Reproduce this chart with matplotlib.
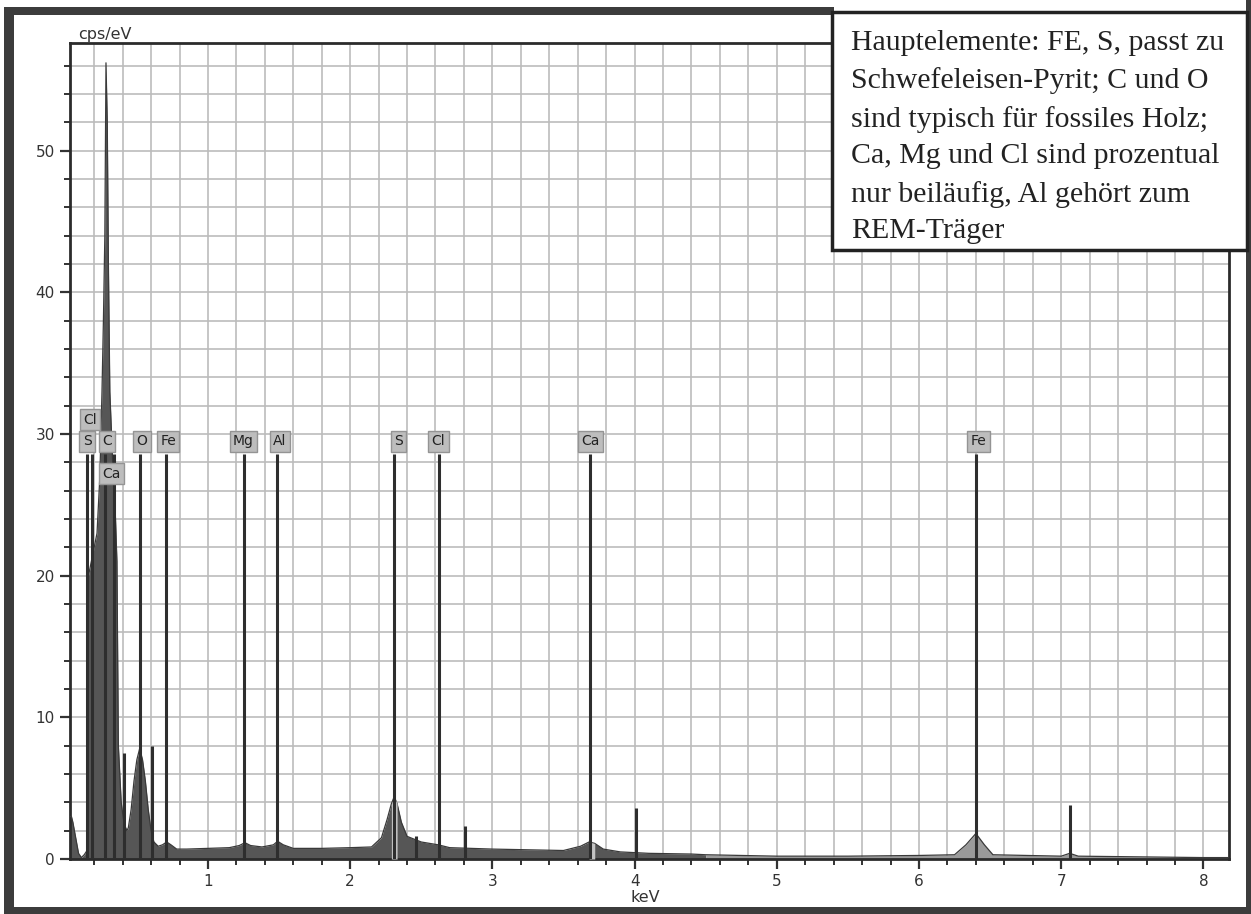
import matplotlib
matplotlib.use("Agg")
import matplotlib.pyplot as plt
from matplotlib.patches import Rectangle
from matplotlib.ticker import MultipleLocator

# EDX spectrum (keV, cps/eV)
energy = [0.03, 0.04, 0.05, 0.07, 0.09, 0.11, 0.13, 0.15, 0.16, 0.18, 0.22, 0.24,
          0.255, 0.265, 0.275, 0.283, 0.292, 0.30, 0.31, 0.33, 0.35, 0.36, 0.37,
          0.39, 0.41, 0.43, 0.44,
          0.46, 0.48, 0.50, 0.52, 0.54, 0.56, 0.58, 0.60, 0.62, 0.65, 0.68, 0.71,
          0.74, 0.78, 0.85, 1.00, 1.15, 1.22, 1.26, 1.30, 1.38, 1.46, 1.49, 1.53,
          1.60, 1.80, 2.00, 2.15, 2.22, 2.26, 2.29, 2.31, 2.33, 2.36, 2.40, 2.45,
          2.50, 2.62, 2.70, 3.00, 3.50, 3.62, 3.68, 3.72, 3.78, 3.90, 4.10, 4.40,
          4.50, 5.00, 5.50, 6.00, 6.25, 6.33, 6.40, 6.46, 6.52, 7.00, 7.06, 7.12,
          8.00, 8.20]
cps = [3.0, 3.0, 2.6, 1.5, 0.4, 0.1, 0.3, 0.6, 20.0, 21.0, 23.0, 27.0,
       33.0, 38.0, 44.0, 56.2, 52.0, 42.0, 33.0, 28.0, 24.0, 21.0, 8.0,
       4.0, 2.5, 2.0, 2.2,
       3.5, 5.5, 7.0, 7.8, 7.0, 5.5, 3.5, 2.0, 1.2, 0.9, 1.0, 1.2,
       1.0, 0.7, 0.7, 0.75, 0.8, 0.95, 1.15, 0.95, 0.85, 1.0, 1.25, 1.0,
       0.75, 0.75, 0.8, 0.85, 1.5, 2.8, 3.9, 4.4, 3.9, 2.6, 1.6, 1.4,
       1.2, 1.0, 0.8, 0.7, 0.6, 0.9, 1.2, 1.1, 0.7, 0.5, 0.4, 0.35,
       0.3, 0.2, 0.2, 0.25, 0.3, 1.0, 1.8, 1.0, 0.3, 0.2, 0.4, 0.2,
       0.1, 0.1]

# element markers: label, line position, label x, label y
el_names = ["S", "C", "Cl", "Ca", "O", "Fe", "Mg", "Al", "S", "Cl", "Ca", "Fe"]
el_lines = [0.149, 0.277, 0.182, 0.341, 0.525, 0.705, 1.254, 1.487, 2.307, 2.622, 3.690, 6.400]
el_lab_x = [0.15, 0.29, 0.17, 0.32, 0.535, 0.72, 1.25, 1.505, 2.34, 2.62, 3.69, 6.42]
el_lab_y = [29.5, 29.5, 31.0, 27.2, 29.5, 29.5, 29.5, 29.5, 29.5, 29.5, 29.5, 29.5]

# short lines (k-beta / escape)
short_x = [0.41, 0.61, 2.46, 2.81, 4.01, 7.06]
short_h = [7.5, 8.0, 1.6, 2.3, 3.6, 3.8]

note = ("Hauptelemente: FE, S, passt zu\n"
        "Schwefeleisen-Pyrit; C und O\n"
        "sind typisch für fossiles Holz;\n"
        "Ca, Mg und Cl sind prozentual\n"
        "nur beiläufig, Al gehört zum\n"
        "REM-Träger")

W, H = 1251, 914
fig = plt.figure(figsize=(W / 100, H / 100), dpi=100)
fig.patch.set_facecolor("white")
ax = fig.add_axes([70 / W, 1 - 859 / H, (1229 - 70) / W, (859 - 43) / H])

ax.set_xlim(0.03, 8.18)
ax.set_ylim(0, 57.6)

ax.xaxis.set_major_locator(MultipleLocator(1))
ax.xaxis.set_minor_locator(MultipleLocator(0.2))
ax.yaxis.set_major_locator(MultipleLocator(10))
ax.yaxis.set_minor_locator(MultipleLocator(2))
ax.grid(True, which="both", color="#bcbcbc", lw=1.2, zorder=0)
ax.set_axisbelow(True)

ax.tick_params(which="major", direction="out", length=7, width=1.6, color="#333",
               labelsize=11, labelcolor="#333", pad=4)
ax.tick_params(which="minor", direction="out", length=4, width=1.4, color="#333")
ax.set_xticks(range(1, 9))
ax.set_xticklabels([str(i) for i in range(1, 9)])
for s in ax.spines.values():
    s.set_color("#2b2b2b")
    s.set_linewidth(2)

# spectrum: dark up to 4.5 keV, lighter beyond
x_split = 4.5
lo = [i for i, e in enumerate(energy) if e <= x_split]
hi = [i for i, e in enumerate(energy) if e >= x_split]
ax.fill_between([energy[i] for i in lo], [cps[i] for i in lo], color="#565656", lw=0, zorder=2)
ax.fill_between([energy[i] for i in hi], [cps[i] for i in hi], color="#9a9a9a", lw=0, zorder=2)
ax.plot(energy, cps, color="#3a3a3a", lw=0.9, zorder=3)

# lighter fitted-peak cores
for c, w in [(2.31, 0.035), (6.40, 0.05), (3.68, 0.04)]:
    idx = [i for i, e in enumerate(energy) if c - w <= e <= c + w]
    ax.fill_between([energy[i] for i in idx], [cps[i] for i in idx],
                    color="#c4c4c4", lw=0, zorder=3)

ax.vlines(el_lines, 0, 28.6, color="#2e2e2e", lw=2.2, zorder=4)
ax.vlines(short_x, 0, short_h, color="#2e2e2e", lw=2.2, zorder=4)

for name, lx, ly in zip(el_names, el_lab_x, el_lab_y):
    ax.text(lx, ly, name, ha="center", va="center", fontsize=10, color="#222",
            zorder=6, bbox=dict(boxstyle="square,pad=0.25", fc="#bdbdbd",
                                ec="#949494", lw=1))

fig.text(78 / W, 1 - 35 / H, "cps/eV", fontsize=11.5, color="#333", va="center")
fig.text(645 / W, 1 - 897 / H, "keV", fontsize=11.5, color="#333", ha="center", va="center")

# scan frame
for (x0, y0, w, h) in [(4, 7, 10, 907), (4, 7, 830, 8), (4, 907, 1247, 7), (1246, 0, 5, 914)]:
    fig.add_artist(Rectangle((x0 / W, 1 - (y0 + h) / H), w / W, h / H,
                             transform=fig.transFigure, color="#3c3c3c", lw=0))

# note box
fig.add_artist(Rectangle((832 / W, 1 - 250 / H), (1247 - 832) / W, (250 - 12) / H,
                         transform=fig.transFigure, fc="white", ec="#222", lw=2.5, zorder=10))
fig.text(851 / W, 1 - 30 / H, note, family="Liberation Serif", fontsize=21.5,
         color="#222", va="top", ha="left", linespacing=1.54, zorder=11)

fig.savefig("out.png", dpi=100)
